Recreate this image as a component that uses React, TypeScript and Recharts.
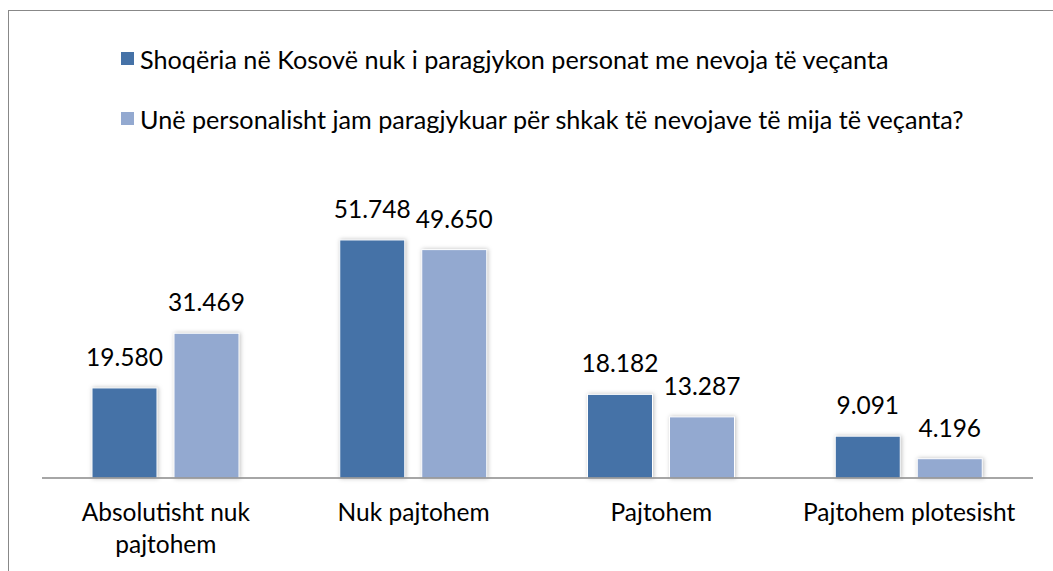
import { BarChart, Bar, XAxis, YAxis, LabelList } from "recharts";

// kategoritë dhe vlerat (%)
const categories = ["Absolutisht nuk pajtohem", "Nuk pajtohem", "Pajtohem", "Pajtohem plotesisht"];
const tickLines = [["Absolutisht nuk", "pajtohem"], ["Nuk pajtohem"], ["Pajtohem"], ["Pajtohem plotesisht"]];
const shoqeria = [19.58, 51.748, 18.182, 9.091];
const personalisht = [31.469, 49.65, 13.287, 4.196];

const seriesNames = [
  "Shoqëria në Kosovë nuk i paragjykon personat me nevoja të veçanta",
  "Unë personalisht jam paragjykuar për shkak të nevojave të mija të veçanta?",
];
const colors = ["#4572A7", "#93A9D0"];

const data = categories.map((c, i) => ({
  name: c,
  s1: shoqeria[i],
  s2: personalisht[i],
}));

const FONT = "Lato, 'Noto Sans', sans-serif";
const FS = 24.5;
const LEGEND_FS = 25.2;

const BarShape = (props: any) => {
  const { x, y, width, height, fill } = props;
  if (!height) return null;
  return (
    <rect
      x={x}
      y={y}
      width={width}
      height={height}
      fill={fill}
      stroke="#ffffff"
      strokeWidth={1}
      style={{ filter: "drop-shadow(1px 0px 2px rgba(0,0,0,0.25))" }}
    />
  );
};

const CategoryTick = (props: any) => {
  const { x, y, payload } = props;
  const lines = tickLines[payload.index] || [payload.value];
  return (
    <g>
      {lines.map((l: string, i: number) => (
        <text
          key={i}
          x={x}
          y={y + 43 + i * 32}
          textAnchor="middle"
          fill="#000"
          fontSize={FS}
          fontFamily={FONT}
        >
          {l}
        </text>
      ))}
    </g>
  );
};

const fmt = (v: any) => Number(v).toFixed(3);

export default function App() {
  return (
    <div
      style={{
        position: "fixed",
        left: 8,
        top: 10,
        width: 1045,
        height: 561,
        borderLeft: "1px solid #888",
        borderTop: "1px solid #888",
        boxSizing: "border-box",
        background: "#fff",
        overflow: "hidden",
      }}
    >
      {/* Legjenda */}
      <div style={{ position: "absolute", left: 0, top: 0, fontFamily: FONT, fontSize: LEGEND_FS, lineHeight: "30px", color: "#000" }}>
        {seriesNames.map((n, i) => (
          <div key={n} style={{ position: "absolute", left: 112, top: 33 + i * 60, whiteSpace: "nowrap" }}>
            <span
              style={{
                position: "absolute",
                left: 0,
                top: 8,
                width: 13,
                height: 13,
                background: colors[i],
              }}
            />
            <span style={{ position: "absolute", left: 19, top: 0 }}>{n}</span>
          </div>
        ))}
      </div>
      <BarChart
        width={1044}
        height={560}
        data={data}
        margin={{ top: 191, right: 20, left: 33, bottom: 33 }}
        barSize={65}
        barGap={17}
      >
        <XAxis
          dataKey="name"
          axisLine={{ stroke: "#888", strokeWidth: 1.5 }}
          tickLine={false}
          tickSize={0}
          tickMargin={0}
          height={60}
          interval={0}
          tick={<CategoryTick />}
        />
        <YAxis hide domain={[0, 60]} />
        <Bar dataKey="s1" fill={colors[0]} shape={<BarShape />} isAnimationActive={false}>
          <LabelList dataKey="s1" position="top" offset={22} formatter={fmt} fill="#000" fontSize={FS} fontFamily={FONT} />
        </Bar>
        <Bar dataKey="s2" fill={colors[1]} shape={<BarShape />} isAnimationActive={false}>
          <LabelList dataKey="s2" position="top" offset={22} formatter={fmt} fill="#000" fontSize={FS} fontFamily={FONT} />
        </Bar>
      </BarChart>
    </div>
  );
}
